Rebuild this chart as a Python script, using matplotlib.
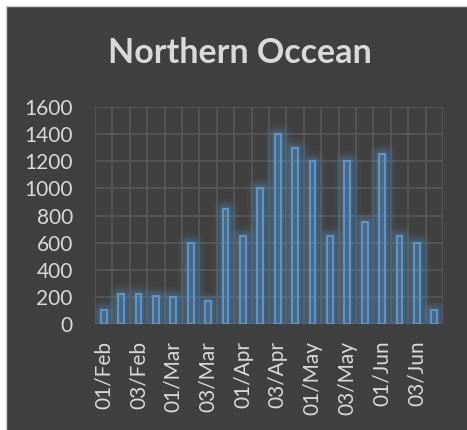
import matplotlib
matplotlib.use("Agg")
import matplotlib.pyplot as plt
from matplotlib.patches import Rectangle

# weekly catches, four weeks per month
weeks = ["01/Feb", "02/Feb", "03/Feb", "04/Feb",
         "01/Mar", "02/Mar", "03/Mar", "04/Mar",
         "01/Apr", "02/Apr", "03/Apr", "04/Apr",
         "01/May", "02/May", "03/May", "04/May",
         "01/Jun", "02/Jun", "03/Jun", "04/Jun"]
catch = [100, 220, 220, 210, 200, 600, 170, 850, 650, 1000,
         1400, 1300, 1200, 650, 1200, 750, 1250, 650, 600, 100]
yticks = [0, 200, 400, 600, 800, 1000, 1200, 1400, 1600]

BG = "#404040"
GRID = "#595959"
TEXT = "#d9d9d9"
BLUE = "#5b9bd5"

plt.rcParams["font.family"] = ["Lato", "DejaVu Sans"]

fig = plt.figure(figsize=(4.67, 4.30), dpi=100, facecolor="white")
fig.patches.append(Rectangle((6 / 467, -0.1), 1.2, 1.1 - 6 / 430,
                             transform=fig.transFigure, facecolor=BG,
                             edgecolor="#cfcfcf", linewidth=1.0, zorder=-10))

ax = fig.add_axes([95 / 467, 1 - 324 / 430, 348 / 467, 217 / 430])
ax.set_facecolor(BG)

x = list(range(len(weeks)))

# soft glow around each bar
for lw, a in [(15, 0.06), (11, 0.08), (7, 0.12), (4, 0.15)]:
    ax.bar(x, catch, width=0.33, facecolor="none", edgecolor=BLUE,
           linewidth=lw, alpha=a, joinstyle="round", zorder=2)
ax.bar(x, catch, width=0.33, facecolor=BLUE + "30", edgecolor=BLUE,
       linewidth=1.3, zorder=3)

ax.set_xlim(-0.5, len(weeks) - 0.5)
ax.set_ylim(0, 1600)
ax.set_yticks(yticks)
ax.set_yticklabels([str(v) for v in yticks])
ax.set_xticks(x[::2])
ax.set_xticklabels(weeks[::2], rotation=90)
ax.set_xticks([i - 0.5 for i in range(len(weeks) + 1)], minor=True)

ax.grid(axis="y", which="major", color=GRID, linewidth=1.1, zorder=1)
ax.grid(axis="x", which="minor", color=GRID, linewidth=1.1, zorder=1)
ax.set_axisbelow(True)
for s in ax.spines.values():
    s.set_visible(False)

ax.tick_params(axis="both", which="both", length=0, colors=TEXT, labelsize=15)
ax.tick_params(axis="y", pad=16)
ax.tick_params(axis="x", pad=12)

fig.text(240 / 467, 1 - 53 / 430, "Northern Occean", color=TEXT,
         fontsize=24.5, fontweight="bold", ha="center", va="center")

fig.savefig("out.png", dpi=100, facecolor=fig.get_facecolor())
